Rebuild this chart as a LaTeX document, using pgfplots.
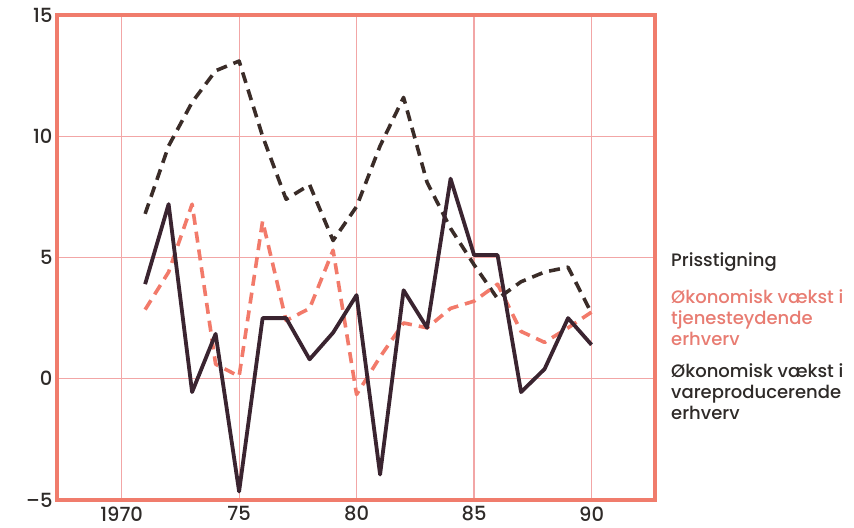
\documentclass[border=0pt]{standalone}
\usepackage{pgfplots}
\pgfplotsset{compat=1.18}
\usepackage{fontspec}
\setmainfont{Poppins}[UprightFont=* Medium, BoldFont=* SemiBold]
\definecolor{frame}{HTML}{F07C6C}
\definecolor{gridpink}{HTML}{F2A6A6}
\definecolor{darkdash}{HTML}{3A2C28}
\definecolor{salmon}{HTML}{F27A6A}
\definecolor{darksolid}{HTML}{3A2430}
\definecolor{ticktext}{HTML}{2E2A28}
\definecolor{legsalmon}{HTML}{E87C72}
\begin{document}
\begin{tikzpicture}
\begin{axis}[
  scale only axis, width=598pt, height=485pt,
  xmin=1967.25, xmax=1992.7, ymin=-5, ymax=15,
  xtick={1970,1975,1980,1985,1990},
  xticklabels={1970,75,80,85,90},
  ytick={-5,0,5,10,15},
  yticklabels={–5,0,5,10,15},
  grid=major,
  major grid style={line width=1.2pt, color=gridpink},
  axis line style={line width=3.4pt, color=frame},
  tick style={draw=none},
  /pgf/number format/assume math mode=true,
  tick label style={font=\fontsize{19.5}{19.5}\selectfont, text=ticktext},
  xticklabel style={yshift=-3pt},
  yticklabel style={xshift=-1pt},
  clip=false,
]
% Prisstigning
\addplot[darkdash, line width=3.6pt, dash pattern=on 11pt off 7pt, line join=round] coordinates {
(1971,6.8) (1972,9.6) (1973,11.4) (1974,12.7) (1975,13.1) (1976,10.0) (1977,7.4) (1978,8.0) (1979,5.7) (1980,7.1) (1981,9.6) (1982,11.6) (1983,8.1) (1984,6.2) (1985,4.7) (1986,3.3) (1987,4.0) (1988,4.4) (1989,4.6) (1990,2.7)};
% tjenesteydende
\addplot[salmon, line width=3.6pt, dash pattern=on 11pt off 7pt, line join=round] coordinates {
(1971,2.85) (1972,4.4) (1973,7.2) (1974,0.6) (1975,0.1) (1976,6.5) (1977,2.4) (1978,2.9) (1979,5.3) (1980,-0.65) (1981,0.9) (1982,2.3) (1983,2.1) (1984,2.9) (1985,3.2) (1986,3.9) (1987,1.95) (1988,1.5) (1989,2.1) (1990,2.75)};
% vareproducerende
\addplot[darksolid, line width=3.8pt, line join=round] coordinates {
(1971,3.9) (1972,7.2) (1973,-0.55) (1974,1.85) (1975,-4.65) (1976,2.5) (1977,2.5) (1978,0.8) (1979,1.9) (1980,3.45) (1981,-3.95) (1982,3.65) (1983,2.1) (1984,8.25) (1985,5.1) (1986,5.1) (1987,-0.55) (1988,0.4) (1989,2.5) (1990,1.4)};
\end{axis}
\pgfresetboundingbox
\useasboundingbox ([shift={(-57pt,-28pt)}]current axis.south west) rectangle ([shift={(199pt,15pt)}]current axis.north east);
\begin{scope}[every node/.style={anchor=west, align=left, inner sep=0pt, font=\fontsize{18}{21}\selectfont}]
\node[text=ticktext] at ([shift={(16pt,-247pt)}]current axis.north east) {Prisstigning};
\node[text=legsalmon] at ([shift={(16pt,-303pt)}]current axis.north east) {Økonomisk vækst i\\tjenesteydende\\erhverv};
\node[text=ticktext] at ([shift={(16pt,-377pt)}]current axis.north east) {Økonomisk vækst i\\vareproducerende\\erhverv};
\end{scope}
\end{tikzpicture}
\end{document}
